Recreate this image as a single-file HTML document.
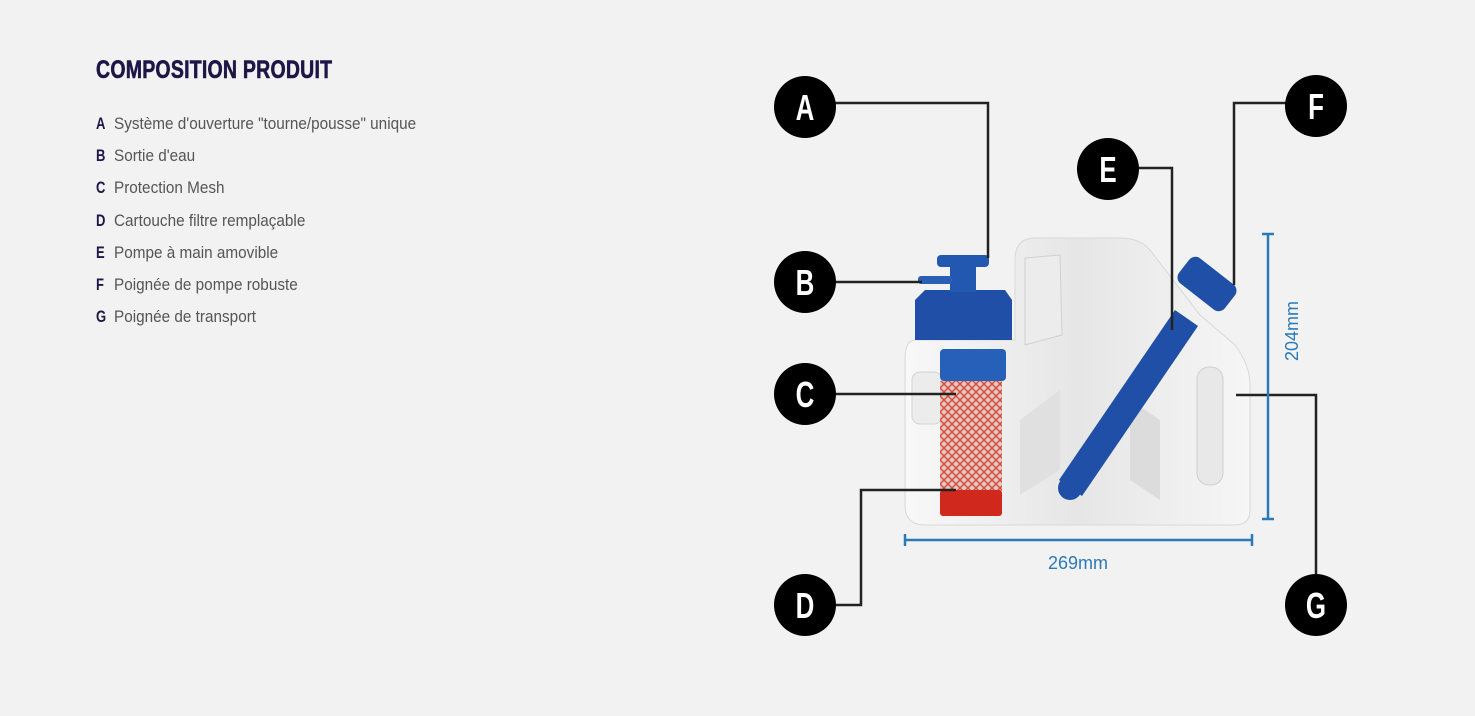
<!DOCTYPE html>
<html><head><meta charset="utf-8"><style>
body{margin:0;background:#f2f2f2;width:1475px;height:716px;overflow:hidden;font-family:"Liberation Sans",sans-serif;}
h1{position:absolute;left:96px;top:56px;margin:0;font-size:25px;font-weight:bold;color:#1d1646;transform:scaleX(0.78);transform-origin:left;letter-spacing:0.3px;-webkit-text-stroke:0.6px #1d1646}
.it{position:absolute;left:96px;font-size:17px;color:#555;transform:scaleX(0.9);transform-origin:left;white-space:nowrap}
.it b{color:#1d1646;display:inline-block;width:20px;font-size:17px;font-weight:bold;transform:scaleX(0.85);transform-origin:left}
</style></head><body>
<h1>COMPOSITION PRODUIT</h1>
<div class="it" style="top:114px"><b>A</b>Système d'ouverture "tourne/pousse" unique</div>
<div class="it" style="top:146px"><b>B</b>Sortie d'eau</div>
<div class="it" style="top:178px"><b>C</b>Protection Mesh</div>
<div class="it" style="top:211px"><b>D</b>Cartouche filtre remplaçable</div>
<div class="it" style="top:243px"><b>E</b>Pompe à main amovible</div>
<div class="it" style="top:275px"><b>F</b>Poignée de pompe robuste</div>
<div class="it" style="top:307px"><b>G</b>Poignée de transport</div>
<svg width="1475" height="716" style="position:absolute;left:0;top:0">
<defs>
<pattern id="mesh" width="8" height="8" patternUnits="userSpaceOnUse"><rect width="8" height="8" fill="#e6c6c0"/><path d="M0 0L8 8M8 0L0 8" stroke="#d24a3c" stroke-width="1.4"/></pattern>
<linearGradient id="bd" x1="0" x2="1"><stop offset="0" stop-color="#f8f8f8"/><stop offset="0.5" stop-color="#e6e6e6"/><stop offset="1" stop-color="#f6f6f6"/></linearGradient>
</defs>
<path d="M915 340 Q905 340 905 360 L905 505 Q905 525 925 525 L1235 525 Q1250 525 1250 510 L1250 385 Q1250 365 1235 345 L1200 315 L1150 250 Q1140 238 1120 238 L1035 238 Q1015 238 1015 260 L1015 340 Z" fill="url(#bd)" stroke="#d8d8d8"/>
<path d="M1025 258 L1060 255 L1062 335 L1025 345 Z" fill="#ececec" stroke="#d0d0d0"/>
<rect x="1197" y="367" width="26" height="118" rx="12" fill="#e8e8e8" stroke="#cfcfcf"/>
<rect x="912" y="372" width="30" height="52" rx="8" fill="#ececec" stroke="#d4d4d4"/>
<path d="M1020 420 L1060 390 L1060 470 L1020 495 Z" fill="#e0e0e0"/>
<path d="M1130 400 L1160 420 L1160 500 L1130 480 Z" fill="#dcdcdc"/>
<path d="M925 290 L1005 290 L1012 300 L1012 340 L915 340 L915 300 Z" fill="#1f4fa6"/>
<rect x="937" y="255" width="52" height="12" rx="4" fill="#2358b0"/>
<rect x="950" y="262" width="26" height="30" fill="#2358b0"/>
<rect x="918" y="276" width="34" height="8" rx="3" fill="#2a5fb5"/>
<rect x="940" y="349" width="66" height="32" rx="4" fill="#2660b8"/>
<rect x="940" y="381" width="62" height="110" fill="url(#mesh)"/>
<rect x="940" y="490" width="62" height="26" rx="3" fill="#d0281c"/>
<path d="M1059 480 L1175 310 L1198 326 L1082 496 Z" fill="#1f4fa6"/>
<circle cx="1070" cy="488" r="12" fill="#1f4fa6"/>
<rect x="1178" y="268" width="58" height="32" rx="8" fill="#1f4fa6" transform="rotate(38 1207 284)"/>
<g stroke="#222" stroke-width="2.5" fill="none">
<path d="M835 103 H988 V258"/>
<path d="M835 282 H922"/>
<path d="M835 394 H956"/>
<path d="M835 605 H861 V490 H956"/>
<path d="M1138 168 H1172 V330"/>
<path d="M1286 103 H1234 V285"/>
<path d="M1236 395 H1316 V575"/>
</g>
<g stroke="#2a7ab8" stroke-width="2.5" fill="none">
<path d="M1268 234 V519 M1262 234 H1274 M1262 519 H1274"/>
<path d="M905 540 H1252 M905 534 V546 M1252 534 V546"/>
</g>
<text x="1078" y="569" font-size="18" fill="#2a7ab8" text-anchor="middle" font-family="Liberation Sans">269mm</text>
<text x="0" y="0" font-size="18" fill="#2a7ab8" text-anchor="middle" font-family="Liberation Sans" transform="translate(1298 331) rotate(-90)">204mm</text>
<g font-family="Liberation Sans" font-weight="bold" font-size="36" fill="#fff" text-anchor="middle">
<circle cx="805" cy="107" r="31" fill="#000"/><text transform="translate(805 120) scale(0.72 1)">A</text>
<circle cx="805" cy="282" r="31" fill="#000"/><text transform="translate(805 295) scale(0.72 1)">B</text>
<circle cx="805" cy="394" r="31" fill="#000"/><text transform="translate(805 407) scale(0.72 1)">C</text>
<circle cx="805" cy="605" r="31" fill="#000"/><text transform="translate(805 618) scale(0.72 1)">D</text>
<circle cx="1108" cy="169" r="31" fill="#000"/><text transform="translate(1108 182) scale(0.72 1)">E</text>
<circle cx="1316" cy="106" r="31" fill="#000"/><text transform="translate(1316 119) scale(0.72 1)">F</text>
<circle cx="1316" cy="605" r="31" fill="#000"/><text transform="translate(1316 618) scale(0.72 1)">G</text>
</g>
</svg>
</body></html>
